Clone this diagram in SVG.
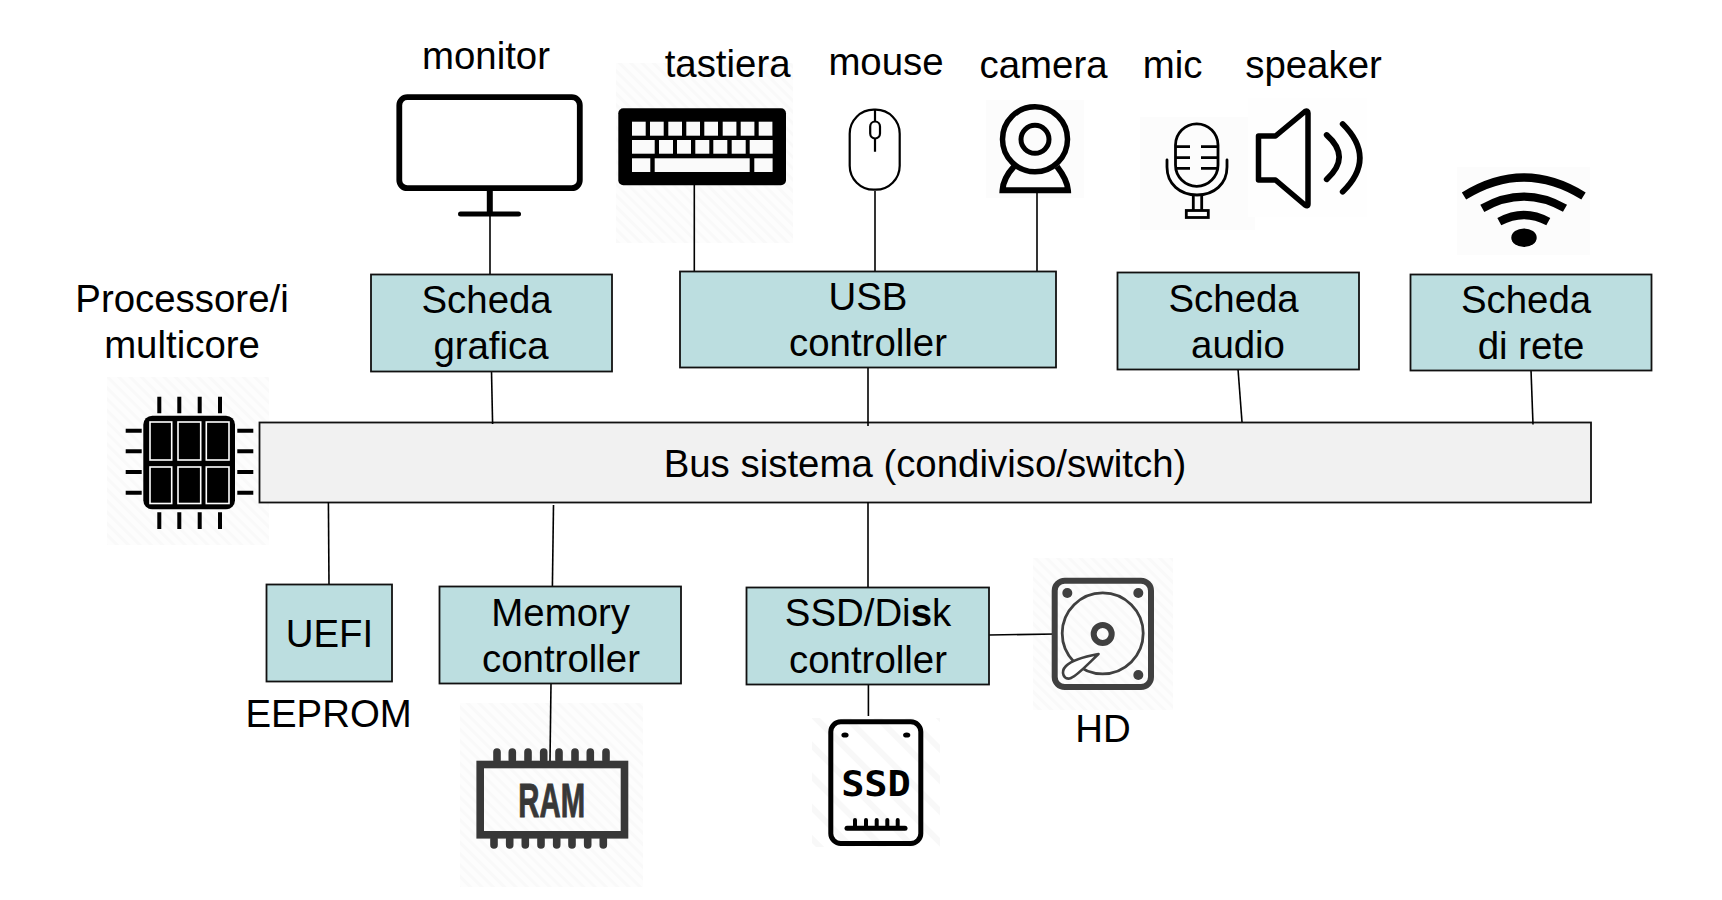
<svg xmlns="http://www.w3.org/2000/svg" width="1722" height="900" viewBox="0 0 1722 900">
<style>
text{font-family:"Liberation Sans",Arial,sans-serif;font-size:38.4px;fill:#000;text-anchor:middle}
.box{fill:#bcdee0;stroke:#111;stroke-width:1.8}
.bus{fill:#f1f1f1;stroke:#111;stroke-width:1.8}
.conn{fill:none;stroke:#000;stroke-width:1.6}
.hatch{fill:url(#hatch)}
.hatchw{fill:url(#hatchw)}
.soft{fill:#fcfcfc}
.softer{fill:#fefefe}
.pin{fill:none;stroke:#000;stroke-width:4}
.key{fill:#fafafa}
.mic{fill:none;stroke:#000;stroke-width:2.8}
.arc{fill:none;stroke:#000;stroke-width:8.2}
.ram{fill:none;stroke:#383838;stroke-width:7.6;stroke-linecap:round}
.hd{fill:none;stroke:#404040}
.chip{fill:#000;stroke:#fff;stroke-width:1.6}
</style>
<defs>
<pattern id="hatch" width="8" height="8" patternUnits="userSpaceOnUse" patternTransform="rotate(-45)">
<rect width="8" height="8" fill="#fdfdfd"/><rect width="3" height="8" fill="#f9f9f9"/>
</pattern>
<pattern id="hatchw" width="22" height="22" patternUnits="userSpaceOnUse" patternTransform="rotate(-45)">
<rect width="22" height="22" fill="#fff"/><rect width="6" height="22" fill="#f8f8f8"/>
</pattern>
</defs>
<rect width="1722" height="900" fill="#fff"/>

<g id="icon-backgrounds">
<rect class="hatch" x="616" y="63" width="177" height="180"/>
<rect class="hatch" x="107" y="377" width="162" height="168"/>
<rect class="soft" x="986" y="100" width="98" height="98"/>
<rect class="soft" x="1140" y="117" width="115" height="113"/>
<rect class="softer" x="1248" y="98" width="119" height="119"/>
<rect class="soft" x="1457" y="167" width="133" height="88"/>
<rect class="hatch" x="460" y="703" width="183" height="184"/>
<rect class="hatchw" x="812" y="718" width="128" height="129"/>
<rect class="hatch" x="1033" y="558" width="140" height="152"/>
</g>

<g id="connectors">
<line class="conn" x1="490" y1="214" x2="490" y2="274"/>
<line class="conn" x1="694.3" y1="185" x2="694.3" y2="271"/>
<line class="conn" x1="875" y1="191" x2="875" y2="271"/>
<line class="conn" x1="1037" y1="193" x2="1037" y2="271"/>
</g>

<g id="node-bus">
<rect class="bus" x="259.500" y="422.500" width="1331.500" height="80"/>
<text x="925" y="476.500">Bus sistema (condiviso/switch)</text>
</g>

<g id="connectors-bus">
<line class="conn" x1="491.500" y1="371" x2="492.600" y2="424"/>
<line class="conn" x1="868" y1="367" x2="868" y2="426"/>
<line class="conn" x1="1238" y1="369" x2="1242" y2="422"/>
<line class="conn" x1="1531" y1="370" x2="1533" y2="424.500"/>
<line class="conn" x1="328.400" y1="502" x2="329" y2="584"/>
<line class="conn" x1="553.500" y1="505" x2="552.400" y2="586"/>
<line class="conn" x1="868" y1="502" x2="868" y2="587"/>
<line class="conn" x1="551" y1="683" x2="550" y2="761"/>
<line class="conn" x1="868.400" y1="684" x2="868.400" y2="716"/>
<line class="conn" x1="989" y1="635" x2="1056" y2="634"/>
</g>

<g id="node-grafica">
<rect class="box" x="371" y="274.500" width="241" height="97"/>
<text x="486.600" y="313">Scheda</text>
<text x="491" y="359">grafica</text>
</g>
<g id="node-usb">
<rect class="box" x="680" y="271.500" width="376" height="96"/>
<text x="868" y="310">USB</text>
<text x="868" y="356">controller</text>
</g>
<g id="node-audio">
<rect class="box" x="1117.500" y="272.500" width="241.500" height="97"/>
<text x="1233.600" y="311.500">Scheda</text>
<text x="1238" y="358">audio</text>
</g>
<g id="node-rete">
<rect class="box" x="1410.500" y="274.500" width="241" height="96"/>
<text x="1526" y="313">Scheda</text>
<text x="1531" y="359">di rete</text>
</g>
<g id="node-uefi">
<rect class="box" x="266.500" y="584.500" width="125.500" height="97"/>
<text x="329.500" y="647">UEFI</text>
</g>
<g id="label-eeprom"><text x="328.600" y="726.500">EEPROM</text></g>
<g id="node-memory">
<rect class="box" x="439.500" y="586.500" width="241.500" height="97"/>
<text x="560.700" y="626">Memory</text>
<text x="561" y="672">controller</text>
</g>
<g id="node-ssd">
<rect class="box" x="746.500" y="587.500" width="242.500" height="97"/>
<text x="868" y="626">SSD/Di<tspan font-weight="bold">s</tspan>k</text>
<text x="868" y="673">controller</text>
</g>

<g id="node-cpu">
<text x="182" y="311.500">Processore/i</text>
<text x="182" y="358">multicore</text>
<rect x="143.300" y="415.700" width="91.700" height="93.600" rx="9" fill="#000"/>
<g class="chips">
<rect class="chip" x="150" y="422" width="21.700" height="38"/>
<rect class="chip" x="178" y="422" width="22.700" height="38"/>
<rect class="chip" x="206.300" y="422" width="22.700" height="38"/>
<rect class="chip" x="150" y="467" width="21.700" height="36.500"/>
<rect class="chip" x="178" y="467" width="22.700" height="36.500"/>
<rect class="chip" x="206.300" y="467" width="22.700" height="36.500"/>
</g>
<path class="pin" d="M159.300 396.700V413.300M179.300 396.700V413.300M199.700 396.700V413.300M220 396.700V413.300M159.300 512.300V529M179.300 512.300V529M199.700 512.300V529M220 512.300V529M125.700 430.700H141.700M125.700 451.300H141.700M125.700 472H141.700M125.700 492.700H141.700M237.300 430.700H253.300M237.300 451.300H253.300M237.300 472H253.300M237.300 492.700H253.300"/>
</g>

<g id="node-monitor">
<text x="486" y="68.500">monitor</text>
<rect x="399.300" y="97.200" width="180.500" height="91" rx="8" fill="#fff" stroke="#000" stroke-width="5.800"/>
<path d="M489.800 190V214" stroke="#000" stroke-width="6" fill="none"/>
<path d="M460.500 214H518.500" stroke="#000" stroke-width="5" stroke-linecap="round" fill="none"/>
</g>

<g id="node-keyboard">
<rect x="618.300" y="108.300" width="167.700" height="77" rx="5" fill="#000"/>
<g class="keys">
<rect class="key" x="632" y="121.700" width="13.700" height="14"/>
<rect class="key" x="650" y="121.700" width="13.700" height="14"/>
<rect class="key" x="668.300" y="121.700" width="13.700" height="14"/>
<rect class="key" x="686.300" y="121.700" width="13.700" height="14"/>
<rect class="key" x="704.300" y="121.700" width="13.700" height="14"/>
<rect class="key" x="722.700" y="121.700" width="13.700" height="14"/>
<rect class="key" x="740.700" y="121.700" width="13.700" height="14"/>
<rect class="key" x="758.700" y="121.700" width="13.700" height="14"/>
<rect class="key" x="632" y="140" width="22.700" height="13.700"/>
<rect class="key" x="659" y="140" width="14" height="13.700"/>
<rect class="key" x="677" y="140" width="14" height="13.700"/>
<rect class="key" x="695.300" y="140" width="14" height="13.700"/>
<rect class="key" x="713.300" y="140" width="14" height="13.700"/>
<rect class="key" x="731.700" y="140" width="14" height="13.700"/>
<rect class="key" x="749.700" y="140" width="23" height="13.700"/>
<rect class="key" x="632" y="158.300" width="18.300" height="13.700"/>
<rect class="key" x="654.700" y="158.300" width="95" height="13.700"/>
<rect class="key" x="754.300" y="158.300" width="18.300" height="13.700"/>
</g>
<text x="727.600" y="76.500">tastiera</text>
</g>

<g id="node-mouse">
<text x="886" y="75">mouse</text>
<rect x="849.700" y="109.700" width="50" height="80" rx="24" fill="#fff" stroke="#000" stroke-width="2.200"/>
<rect x="870.200" y="121.500" width="9.800" height="17" rx="4.900" fill="none" stroke="#000" stroke-width="2.200"/>
<path d="M875 109.700V121.500M875 138.500V151.700" fill="none" stroke="#000" stroke-width="2.200"/>
</g>

<g id="node-camera">
<text x="1043.600" y="78">camera</text>
<circle cx="1035" cy="139.300" r="32.500" fill="none" stroke="#000" stroke-width="5.500"/>
<circle cx="1035" cy="139.300" r="14" fill="none" stroke="#000" stroke-width="5"/>
<path d="M1014 166.500C1008 173 1003 181 1002.500 190.300H1068C1067.500 181 1062 173 1057 166.500" fill="none" stroke="#000" stroke-width="6"/>
</g>

<g id="node-mic">
<text x="1172.600" y="78">mic</text>
<rect class="mic" x="1175.500" y="123.800" width="42.500" height="62.500" rx="21.200"/>
<path class="mic" d="M1176 146.700H1190M1176 157.700H1190M1176 168.300H1190M1201 146.700H1217.500M1201 157.700H1217.500M1201 168.300H1217.500"/>
<path class="mic" stroke-linecap="round" d="M1167 160V167C1167 184 1180 195 1197 195C1214 195 1227 184 1227 167V160"/>
<path class="mic" d="M1193.300 195V210M1201.700 195V210"/>
<rect class="mic" x="1186.300" y="210.500" width="22" height="7"/>
</g>

<g id="node-speaker">
<text x="1313.500" y="78">speaker</text>
<path d="M1258.500 136H1275.500L1305 111.500Q1308 110 1308 113V204Q1308 207 1305 205L1275.500 180H1258.500Z" fill="none" stroke="#000" stroke-width="5.500" stroke-linejoin="round"/>
<path d="M1326.700 135Q1351.600 157 1326.700 179.300M1342.700 124Q1377 158 1342.700 191.700" fill="none" stroke="#000" stroke-width="5.800" stroke-linecap="round"/>
</g>

<g id="node-wifi">
<path class="arc" d="M1464 196Q1524 159 1583.500 196"/>
<path class="arc" d="M1482.300 208.300Q1524 185 1565 208.300"/>
<path class="arc" d="M1499.300 221.700Q1524 208.300 1548.300 221.700"/>
<ellipse cx="1524" cy="237.700" rx="12.700" ry="9.300" fill="#000"/>
</g>

<g id="node-ram">
<rect class="ram" style="stroke-linecap:butt" x="480.200" y="764.500" width="144.300" height="70.300"/>
<path class="ram" d="M497 752V760M512.300 752V760M528 752V760M543.700 752V760M559 752V760M575 752V760M590.300 752V760M606 752V760M494 839V845M509.700 839V845M525.300 839V845M541 839V845M556.700 839V845M572 839V845M587.700 839V845M603.300 839V845"/>
<text x="551.700" y="817.300" style="font-family:'Liberation Sans Narrow','Liberation Sans',sans-serif;font-size:48px;font-weight:bold;fill:#383838;stroke:#383838;stroke-width:1" textLength="66.700" lengthAdjust="spacingAndGlyphs">RAM</text>
</g>

<g id="node-ssd-drive">
<rect x="830.800" y="721.800" width="90" height="121.700" rx="10" fill="none" stroke="#000" stroke-width="5"/>
<ellipse cx="845" cy="735" rx="3.600" ry="2.600" fill="#000"/>
<ellipse cx="906.700" cy="735" rx="3.600" ry="2.600" fill="#000"/>
<text x="876" y="796" style="font-family:'DejaVu Sans Mono',monospace;font-size:35px;font-weight:bold" textLength="69.700" lengthAdjust="spacingAndGlyphs">SSD</text>
<path d="M847 828.300H905" fill="none" stroke="#000" stroke-width="5" stroke-linecap="round"/>
<path d="M855 820V828M866 820V828M876.700 820V828M887.300 820V828M897.700 820V828" fill="none" stroke="#000" stroke-width="4" stroke-linecap="round"/>
</g>

<g id="node-hd">
<rect class="hd" x="1054.700" y="580.700" width="96.300" height="106.300" rx="10" stroke-width="6"/>
<circle cx="1067.300" cy="593" r="5" fill="#404040"/>
<circle cx="1138.300" cy="593" r="5" fill="#404040"/>
<circle cx="1138.300" cy="675" r="5" fill="#404040"/>
<circle class="hd" cx="1102.700" cy="633.300" r="40.500" stroke-width="2.800"/>
<circle class="hd" cx="1102.700" cy="634" r="9" stroke-width="6"/>
<path d="M1098.500 654C1088 656 1072 660 1066 666C1060 672 1064 681 1071 678C1078 675 1088 664 1098.500 654Z" fill="#fff" stroke="#404040" stroke-width="2.600" stroke-linejoin="round"/>
<text x="1103" y="742">HD</text>
</g>
</svg>
